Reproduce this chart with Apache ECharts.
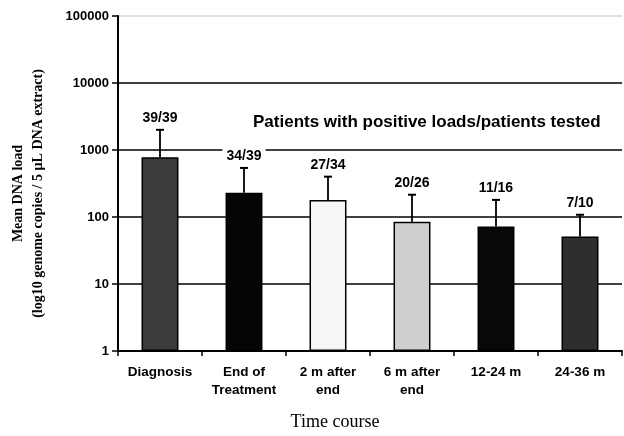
<!DOCTYPE html>
<html><head><meta charset="utf-8">
<script src="https://cdn.jsdelivr.net/npm/echarts@6/dist/echarts.min.js"></script>
<style>html,body{margin:0;padding:0;background:#fff}#c{width:624px;height:436px}</style>
</head><body><div id="c"></div>
<script>
const categories = ['Diagnosis', 'End of\nTreatment', '2 m after\nend', '6 m after\nend', '12-24 m', '24-36 m'];
const meanLoad = [780, 230, 180, 85, 72, 51];
const errorTop = [2000, 540, 400, 215, 180, 108];
const ratioLabels = ['39/39', '34/39', '27/34', '20/26', '11/16', '7/10'];
const barColors = ['#3c3c3c', '#050505', '#f6f6f6', '#cfcfcf', '#080808', '#2e2e2e'];
const yTicks = [1, 10, 100, 1000, 10000, 100000];

const chart = echarts.init(document.getElementById('c'));
chart.setOption({
  animation: false,
  backgroundColor: '#fff',
  grid: { left: 117, right: 2, top: 16, bottom: 83, containLabel: false },
  xAxis: {
    type: 'category', data: categories,
    axisLine: { lineStyle: { color: '#000', width: 2 } },
    axisTick: { show: true, length: 5, lineStyle: { color: '#000', width: 1.5 } },
    axisLabel: { color: '#000', fontFamily: 'Liberation Sans, Arial', fontWeight: 'bold', fontSize: 13.5, lineHeight: 18, margin: 12 },
    name: 'Time course', nameLocation: 'middle', nameGap: 62,
    nameTextStyle: { color: '#000', fontFamily: 'Liberation Serif, Times New Roman', fontSize: 18, padding: [0, 0, 0, -70] }
  },
  yAxis: {
    type: 'log', logBase: 10, min: 1, max: 100000,
    axisLine: { show: true, lineStyle: { color: '#000', width: 2 } },
    axisTick: { show: true, inside: false, length: 6, lineStyle: { color: '#000', width: 1.5 } },
    splitLine: { show: true, lineStyle: { color: ['#000', '#000', '#000', '#000', '#000', '#d8d8d8'], width: 1.5 } },
    axisLabel: { color: '#000', fontFamily: 'Liberation Sans, Arial', fontWeight: 'bold', fontSize: 13, margin: 9,
      formatter: v => yTicks.includes(Math.round(v)) ? String(Math.round(v)) : '' },
    name: 'Mean DNA load\n(log10 genome copies / 5 µL DNA extract)', nameLocation: 'middle', nameGap: 70,
    nameTextStyle: { color: '#000', fontFamily: 'Liberation Serif, Times New Roman', fontWeight: 'bold', fontSize: 14, lineHeight: 20, padding: [0, 20, 0, 0] }
  },
  graphic: [{
    type: 'text', left: 253, top: 114,
    style: { text: 'Patients with positive loads/patients tested', fill: '#000', font: 'bold 17px "Liberation Sans", Arial' }
  }],
  series: [{
    type: 'bar', barWidth: '44%',
    data: meanLoad.map((v, i) => ({ value: v, itemStyle: { color: barColors[i], borderColor: '#000', borderWidth: 1.5 } })),
    z: 3
  }, {
    type: 'custom', z: 4,
    data: meanLoad.map((v, i) => [i, v, errorTop[i]]),
    renderItem: (params, api) => {
      const base = api.coord([api.value(0), api.value(1)]);
      const top = api.coord([api.value(0), api.value(2)]);
      const i = params.dataIndex;
      return {
        type: 'group', children: [
          { type: 'line', shape: { x1: base[0], y1: base[1], x2: top[0], y2: top[1] }, style: { stroke: '#000', lineWidth: 1.8 } },
          { type: 'line', shape: { x1: top[0] - 4, y1: top[1], x2: top[0] + 4, y2: top[1] }, style: { stroke: '#000', lineWidth: 2 } },
          { type: 'text', x: top[0], y: top[1] - 5,
            style: { text: ratioLabels[i], fill: '#000', font: 'bold 14px "Liberation Sans", Arial', align: 'center', verticalAlign: 'bottom',
              backgroundColor: '#fff', padding: [1, 4, 0, 4] } }
        ]
      };
    }
  }]
});
</script></body></html>
